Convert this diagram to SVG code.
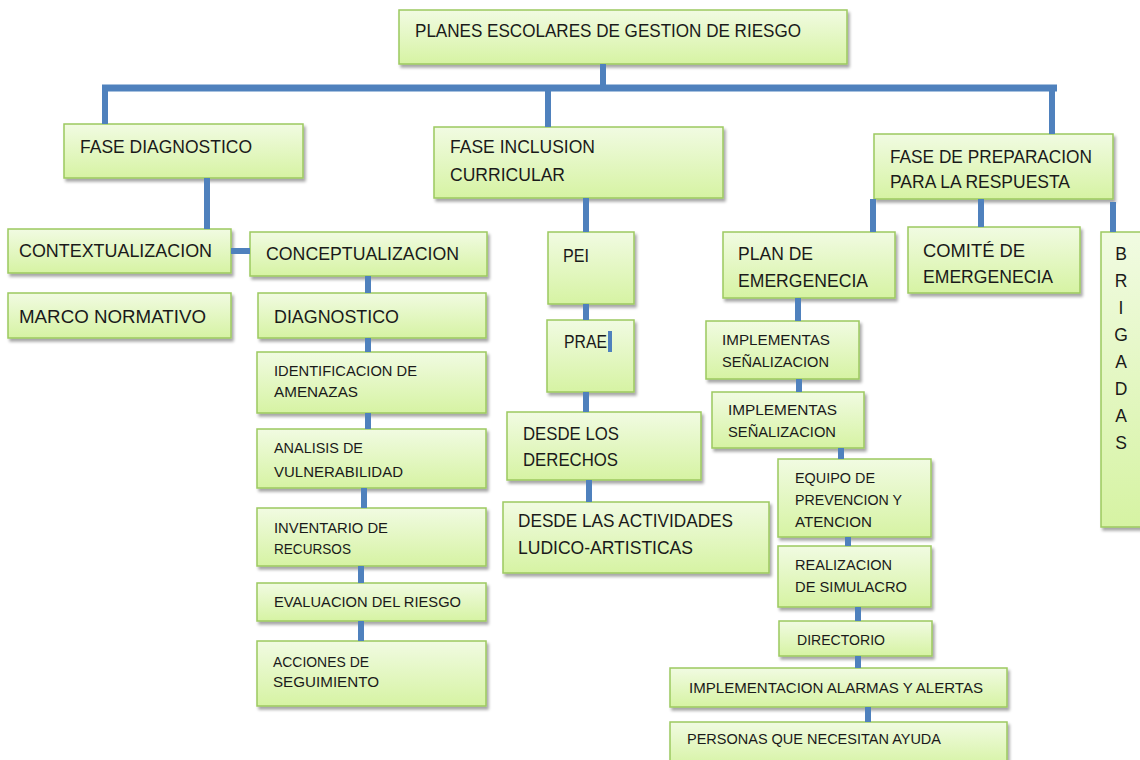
<svg xmlns="http://www.w3.org/2000/svg" width="1140" height="760" viewBox="0 0 1140 760">
<defs>
<linearGradient id="g" x1="0" y1="0" x2="0" y2="1">
<stop offset="0" stop-color="#f1fbe2"/>
<stop offset="1" stop-color="#d6f3a3"/>
</linearGradient>
<filter id="sh" x="-10%" y="-10%" width="120%" height="130%">
<feDropShadow dx="2" dy="3" stdDeviation="1.8" flood-color="#000" flood-opacity="0.35"/>
</filter>
<style>
.box{fill:url(#g);stroke:#9cc95f;stroke-width:1.5;filter:url(#sh)}
.lg{font-family:"Liberation Sans",Arial,sans-serif;font-size:17.5px;fill:#1a1a1a}
.sm{font-family:"Liberation Sans",Arial,sans-serif;font-size:15px;fill:#1a1a1a}
.c{stroke:#4f81bd;stroke-width:6;fill:none}
.cb{stroke:#4f81bd;stroke-width:7;fill:none}
</style>
</defs>
<rect width="1140" height="760" fill="#fff"/>

<g id="n-root"><rect class="box" x="399" y="10" width="448" height="54"/><text class="lg" x="415" y="37" textLength="386" lengthAdjust="spacingAndGlyphs">PLANES ESCOLARES DE GESTION DE RIESGO</text></g>

<g id="n-fase-diag"><rect class="box" x="64" y="124" width="239" height="54"/><text class="lg" x="80" y="153" textLength="172" lengthAdjust="spacingAndGlyphs">FASE DIAGNOSTICO</text></g>

<g id="n-fase-incl"><rect class="box" x="434" y="127" width="289" height="71"/><text class="lg" x="450" y="153" textLength="145" lengthAdjust="spacingAndGlyphs">FASE INCLUSION</text><text class="lg" x="450" y="181" textLength="115" lengthAdjust="spacingAndGlyphs">CURRICULAR</text></g>

<g id="n-fase-prep"><rect class="box" x="874" y="134" width="239" height="65"/><text class="lg" x="890" y="163" textLength="202" lengthAdjust="spacingAndGlyphs">FASE DE PREPARACION</text><text class="lg" x="890" y="188" textLength="180" lengthAdjust="spacingAndGlyphs">PARA LA RESPUESTA</text></g>

<g id="n-context"><rect class="box" x="8" y="229" width="223" height="44"/><text class="lg" x="19" y="257" textLength="193" lengthAdjust="spacingAndGlyphs">CONTEXTUALIZACION</text></g>

<g id="n-concept"><rect class="box" x="250" y="232" width="237" height="44"/><text class="lg" x="266" y="260" textLength="193" lengthAdjust="spacingAndGlyphs">CONCEPTUALIZACION</text></g>

<g id="n-marco"><rect class="box" x="8" y="293" width="223" height="45"/><text class="lg" x="19" y="323" textLength="187" lengthAdjust="spacingAndGlyphs">MARCO NORMATIVO</text></g>

<g id="n-diag"><rect class="box" x="258" y="293" width="228" height="45"/><text class="lg" x="274" y="323" textLength="125" lengthAdjust="spacingAndGlyphs">DIAGNOSTICO</text></g>

<g id="n-ident"><rect class="box" x="257" y="352" width="229" height="61"/><text class="sm" x="274" y="376" textLength="143" lengthAdjust="spacingAndGlyphs">IDENTIFICACION DE</text><text class="sm" x="274" y="397" textLength="84" lengthAdjust="spacingAndGlyphs">AMENAZAS</text></g>

<g id="n-analisis"><rect class="box" x="257" y="429" width="229" height="59"/><text class="sm" x="274" y="453" textLength="89" lengthAdjust="spacingAndGlyphs">ANALISIS DE</text><text class="sm" x="274" y="477" textLength="129" lengthAdjust="spacingAndGlyphs">VULNERABILIDAD</text></g>

<g id="n-inventario"><rect class="box" x="257" y="508" width="229" height="58"/><text class="sm" x="274" y="533" textLength="114" lengthAdjust="spacingAndGlyphs">INVENTARIO DE</text><text class="sm" x="274" y="554" textLength="77" lengthAdjust="spacingAndGlyphs">RECURSOS</text></g>

<g id="n-evaluacion"><rect class="box" x="257" y="583" width="229" height="38"/><text class="sm" x="274" y="607" textLength="187" lengthAdjust="spacingAndGlyphs">EVALUACION DEL RIESGO</text></g>

<g id="n-acciones"><rect class="box" x="257" y="641" width="229" height="65"/><text class="sm" x="273" y="667" textLength="96" lengthAdjust="spacingAndGlyphs">ACCIONES DE</text><text class="sm" x="273" y="687" textLength="106" lengthAdjust="spacingAndGlyphs">SEGUIMIENTO</text></g>

<g id="n-pei"><rect class="box" x="548" y="232" width="86" height="72"/><text class="lg" x="563" y="262" textLength="26" lengthAdjust="spacingAndGlyphs">PEI</text></g>

<g id="n-prae"><rect class="box" x="547" y="320" width="87" height="72"/><text class="lg" x="564" y="348" textLength="43" lengthAdjust="spacingAndGlyphs">PRAE</text></g>

<g id="n-derechos"><rect class="box" x="507" y="412" width="194" height="68"/><text class="lg" x="523" y="440" textLength="96" lengthAdjust="spacingAndGlyphs">DESDE LOS</text><text class="lg" x="523" y="466" textLength="95" lengthAdjust="spacingAndGlyphs">DERECHOS</text></g>

<g id="n-actividades"><rect class="box" x="503" y="502" width="266" height="71"/><text class="lg" x="518" y="527" textLength="215" lengthAdjust="spacingAndGlyphs">DESDE LAS ACTIVIDADES</text><text class="lg" x="518" y="554" textLength="175" lengthAdjust="spacingAndGlyphs">LUDICO-ARTISTICAS</text></g>

<g id="n-plan"><rect class="box" x="723" y="232" width="172" height="66"/><text class="lg" x="738" y="260" textLength="75" lengthAdjust="spacingAndGlyphs">PLAN DE</text><text class="lg" x="738" y="287" textLength="130" lengthAdjust="spacingAndGlyphs">EMERGENECIA</text></g>

<g id="n-comite"><rect class="box" x="908" y="227" width="172" height="66"/><text class="lg" x="923" y="257" textLength="102" lengthAdjust="spacingAndGlyphs">COMITÉ  DE</text><text class="lg" x="923" y="283" textLength="130" lengthAdjust="spacingAndGlyphs">EMERGENECIA</text></g>

<g id="n-brigadas"><rect class="box" x="1101" y="232" width="40" height="295"/>
<g class="lg" text-anchor="middle">
<text x="1121" y="260">B</text><text x="1121" y="287">R</text><text x="1121" y="314">I</text><text x="1121" y="341">G</text><text x="1121" y="368">A</text><text x="1121" y="395">D</text><text x="1121" y="422">A</text><text x="1121" y="449">S</text>
</g></g>

<g id="n-impl1"><rect class="box" x="706" y="321" width="153" height="58"/><text class="sm" x="722" y="345" textLength="108" lengthAdjust="spacingAndGlyphs">IMPLEMENTAS</text><text class="sm" x="722" y="367" textLength="107" lengthAdjust="spacingAndGlyphs">SEÑALIZACION</text></g>

<g id="n-impl2"><rect class="box" x="712" y="392" width="152" height="56"/><text class="sm" x="728" y="415" textLength="109" lengthAdjust="spacingAndGlyphs">IMPLEMENTAS</text><text class="sm" x="728" y="437" textLength="108" lengthAdjust="spacingAndGlyphs">SEÑALIZACION</text></g>

<g id="n-equipo"><rect class="box" x="778" y="459" width="153" height="78"/><text class="sm" x="795" y="483" textLength="80" lengthAdjust="spacingAndGlyphs">EQUIPO DE</text><text class="sm" x="795" y="505" textLength="107" lengthAdjust="spacingAndGlyphs">PREVENCION Y</text><text class="sm" x="795" y="527" textLength="77" lengthAdjust="spacingAndGlyphs">ATENCION</text></g>

<g id="n-realizacion"><rect class="box" x="778" y="546" width="153" height="61"/><text class="sm" x="795" y="570" textLength="97" lengthAdjust="spacingAndGlyphs">REALIZACION</text><text class="sm" x="795" y="592" textLength="112" lengthAdjust="spacingAndGlyphs">DE SIMULACRO</text></g>

<g id="n-directorio"><rect class="box" x="779" y="621" width="153" height="35"/><text class="sm" x="797" y="645" textLength="88" lengthAdjust="spacingAndGlyphs">DIRECTORIO</text></g>

<g id="n-alarmas"><rect class="box" x="670" y="668" width="337" height="39"/><text class="sm" x="689" y="693" textLength="294" lengthAdjust="spacingAndGlyphs">IMPLEMENTACION ALARMAS Y ALERTAS</text></g>

<g id="n-personas"><rect class="box" x="670" y="722" width="337" height="45"/><text class="sm" x="687" y="744" textLength="254" lengthAdjust="spacingAndGlyphs">PERSONAS QUE NECESITAN AYUDA</text></g>

<g id="connectors">
<path class="c" d="M603 64V88"/>
<path class="cb" d="M102 88H1057"/>
<path class="c" d="M105 88V124M548 91V127M1052 88V134"/>
<path class="c" d="M207 178V229M231 251H250M368 276V293M368 338V352M368 413V429M364 488V508M361 566V583M361 621V641"/>
<path class="c" d="M586 198V232M586 304V320M586 392V412M589 480V502"/>
<path d="M610 331V352" stroke="#4f81bd" stroke-width="4"/>
<path class="c" d="M873 199V232M981 199V227M1113 202V232"/>
<path class="c" d="M798 298V321M799 379V392M841 448V459M848 537V546M858 607V621M858 656V668M868 707V722"/>
</g>
</svg>
